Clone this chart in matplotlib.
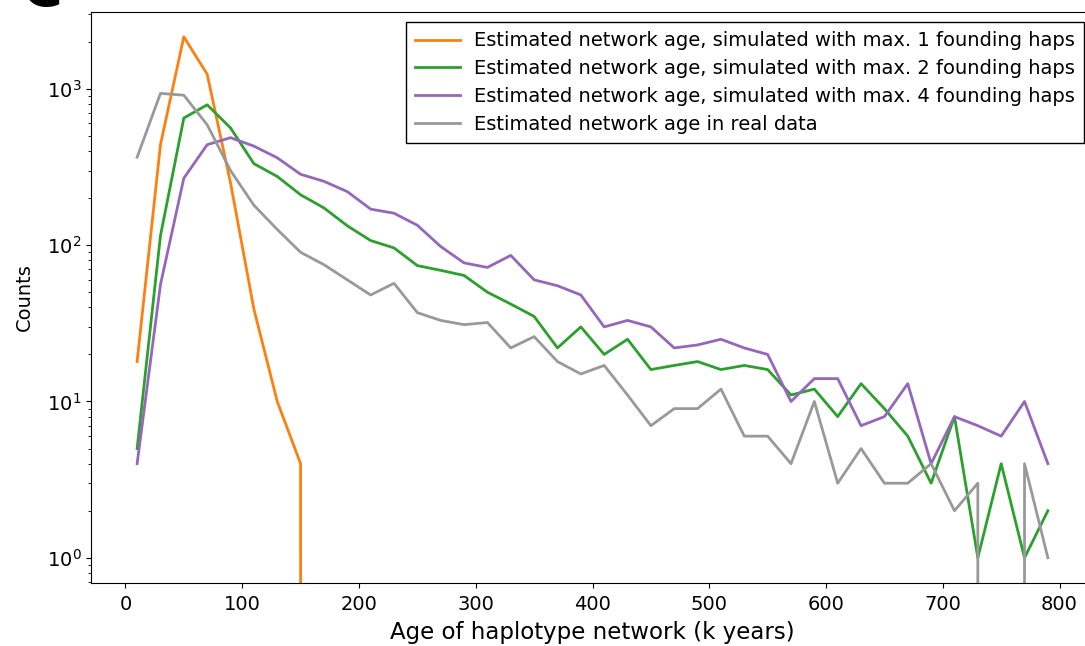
import numpy as np
import matplotlib
matplotlib.use('Agg')
import matplotlib.pyplot as plt

# bin centres (k years)
ages = list(range(10, 800, 20))

# counts per bin
sim_max1 = [18, 440, 2150, 1240, 250, 39, 10, 4] + [0] * 32
sim_max2 = [5, 115, 650, 790, 562, 332, 275, 210, 173, 133,
            107, 96, 74, 69, 64, 50, 42, 35, 22, 30,
            20, 25, 16, 17, 18, 16, 17, 16, 11, 12,
            8, 13, 9, 6, 3, 8, 1, 4, 1, 2]
sim_max4 = [4, 56, 268, 439, 487, 430, 362, 284, 256, 220,
            170, 160, 134, 98, 77, 72, 86, 60, 55, 48,
            30, 33, 30, 22, 23, 25, 22, 20, 10, 14,
            14, 7, 8, 13, 4, 8, 7, 6, 10, 4]
real_data = [365, 935, 910, 589, 300, 180, 126, 90, 75, 60,
             48, 57, 37, 33, 31, 32, 22, 26, 18, 15,
             17, 11, 7, 9, 9, 12, 6, 6, 4, 10,
             3, 5, 3, 3, 4, 2, 3, 0, 4, 1]

labels = ['Estimated network age, simulated with max. 1 founding haps',
          'Estimated network age, simulated with max. 2 founding haps',
          'Estimated network age, simulated with max. 4 founding haps',
          'Estimated network age in real data']
colors = ['#ff7f0e', '#2ca02c', '#9467bd', '#999999']

fig = plt.figure(figsize=(10.85, 6.46), dpi=100)
W, H = 1085, 646
ax = fig.add_axes([91 / W, (H - 583) / H, (1094 - 91) / W, (583 - 12) / H])

for ys, lab, c in zip([sim_max1, sim_max2, sim_max4, real_data], labels, colors):
    ax.plot(ages, ys, color=c, lw=2, label=lab)

ax.set_yscale('log')
ax.set_ylim(0.69, 3100)
ax.set_xlim(-29.5, 829.5)
ax.set_xticks(range(0, 801, 100))
ax.tick_params(labelsize=14)
ax.tick_params(axis='x', pad=5.5)
ax.set_xlabel('Age of haplotype network (k years)', fontsize=16.5, labelpad=5)
ax.set_ylabel('Counts', fontsize=14, labelpad=9)

leg = ax.legend(loc='upper right', fontsize=14, fancybox=False,
                edgecolor='black', framealpha=1, borderaxespad=0.5,
                borderpad=0.5, labelspacing=0.45, handlelength=2.3,
                handletextpad=0.7)
leg.get_frame().set_linewidth(1.0)

# panel letter, mostly cut off at the top edge
fig.text(42 / W, 1 - 5 / H, 'C', fontsize=40, fontweight='bold',
         ha='center', va='baseline')

fig.savefig('out.png', dpi=100)
